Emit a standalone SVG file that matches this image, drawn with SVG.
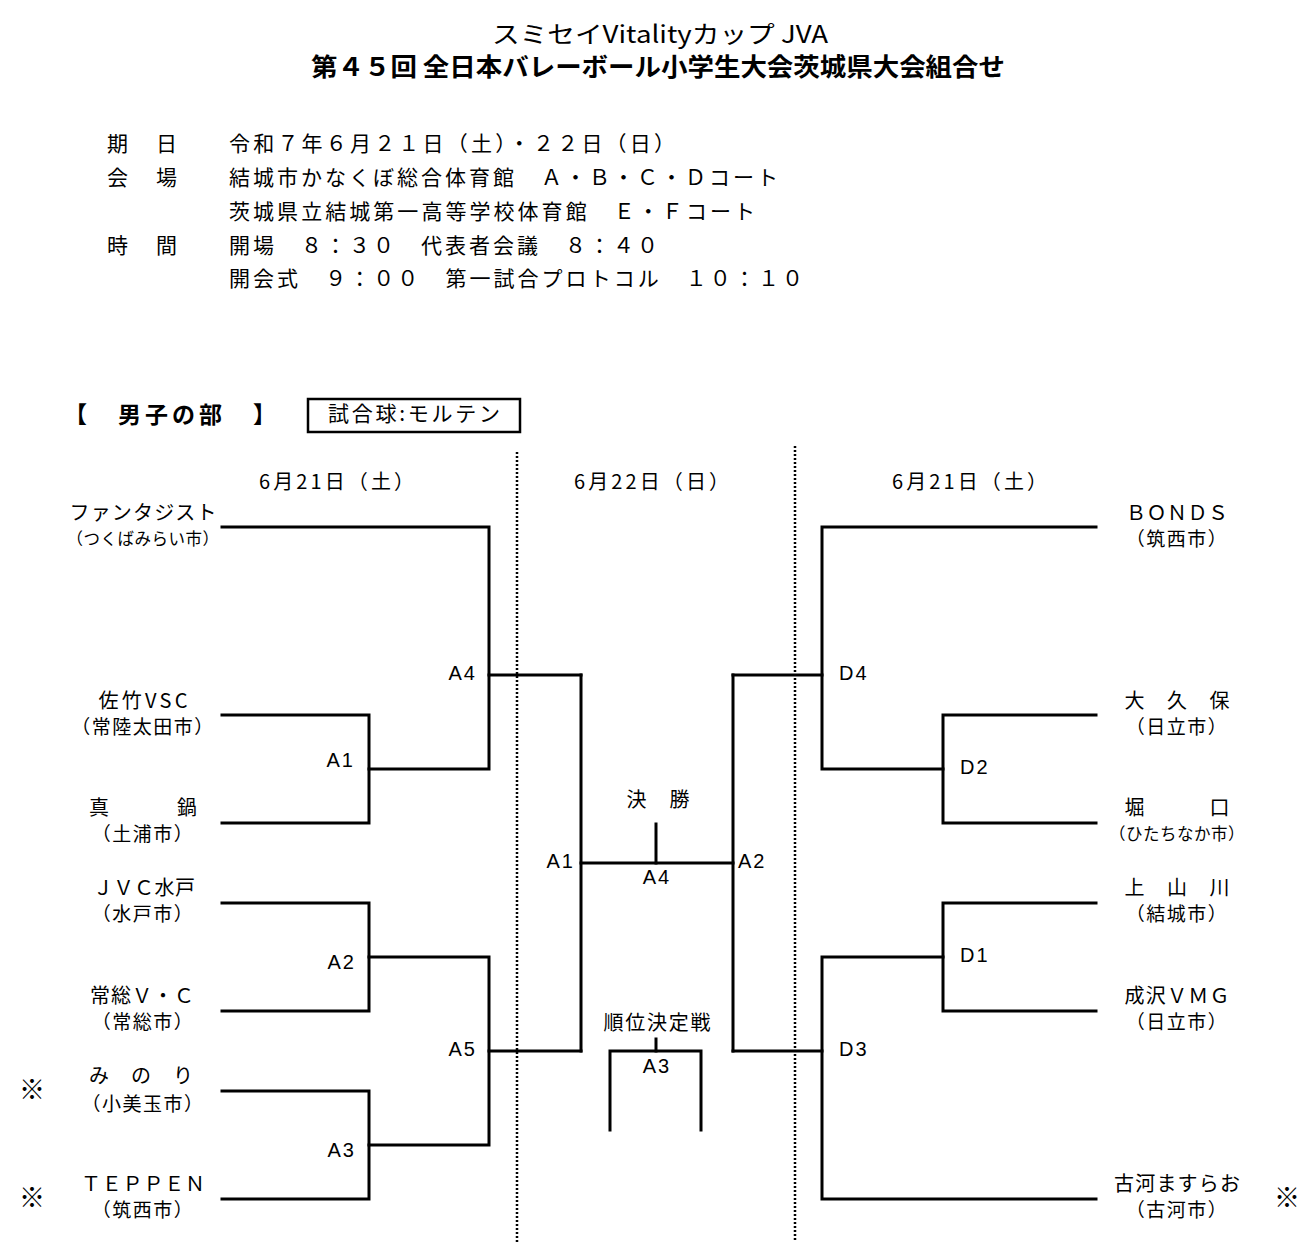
<svg xmlns="http://www.w3.org/2000/svg" width="1311" height="1246" viewBox="0 0 1311 1246">
<style>
text{font-family:"Noto Sans CJK JP","Noto Sans",sans-serif;fill:#000}
.t1{font-size:24px}
.t2{font-size:25px;font-weight:bold}
.info{font-size:21px}
.sec{font-size:23px;font-weight:bold}
.date{font-size:20px}
.tm{font-size:20px;text-anchor:middle}
.city{font-size:19px;text-anchor:middle;letter-spacing:1.5px}
.citys{font-size:16.5px;text-anchor:middle;letter-spacing:0.5px}
.lb{font-family:"Liberation Sans","DejaVu Sans",sans-serif;font-size:20px;letter-spacing:2px}
.mk{font-size:26px;text-anchor:middle}
.ln{fill:none;stroke:#000;stroke-width:3;stroke-linecap:square}
.dot{fill:none;stroke:#000;stroke-width:2.5;stroke-dasharray:2 2}
</style>
<rect width="1311" height="1246" fill="#fff"/>
<g id="header">
<text class="t1" x="492" y="43" textLength="336" lengthAdjust="spacingAndGlyphs">スミセイVitalityカップ JVA</text>
<text class="t2" x="311" y="76" textLength="694" lengthAdjust="spacingAndGlyphs">第４５回 全日本バレーボール小学生大会茨城県大会組合せ</text>
</g>
<g id="info">
<text class="info" x="107" y="151" textLength="70">期　日</text>
<text class="info" x="229" y="151" textLength="446">令和７年６月２１日（土）・２２日（日）</text>
<text class="info" x="107" y="185" textLength="70">会　場</text>
<text class="info" x="229" y="185" textLength="549">結城市かなくぼ総合体育館　Ａ・Ｂ・Ｃ・Ｄコート</text>
<text class="info" x="229" y="219" textLength="526">茨城県立結城第一高等学校体育館　Ｅ・Ｆコート</text>
<text class="info" x="107" y="253" textLength="70">時　間</text>
<text class="info" x="229" y="253" textLength="429">開場　８：３０　代表者会議　８：４０</text>
<text class="info" x="229" y="286" textLength="574">開会式　９：００　第一試合プロトコル　１０：１０</text>
</g>
<g id="section">
<text class="sec" x="64" y="423" textLength="212">【　男子の部　】</text>
<rect x="308" y="399" width="212" height="33" fill="none" stroke="#000" stroke-width="2.5"/>
<text class="info" x="328" y="421" textLength="172">試合球:モルテン</text>
</g>
<g id="dates">
<text class="date" x="259" y="489" textLength="155">6月21日（土）</text>
<text class="date" x="574" y="489" textLength="155">6月22日（日）</text>
<text class="date" x="892" y="489" textLength="155">6月21日（土）</text>
</g>
<g id="connectors">
<line class="dot" x1="517" y1="452" x2="517" y2="1242"/>
<line class="dot" x1="795" y1="446" x2="795" y2="1242"/>
<polyline class="ln" points="222,527 489,527 489,769 369,769"/>
<polyline class="ln" points="222,715 369,715 369,823 222,823"/>
<polyline class="ln" points="222,903 369,903 369,1011 222,1011"/>
<polyline class="ln" points="222,1091 369,1091 369,1199 222,1199"/>
<polyline class="ln" points="369,957 489,957 489,1145 369,1145"/>
<line class="ln" x1="489" y1="675" x2="581" y2="675"/>
<line class="ln" x1="489" y1="1051" x2="581" y2="1051"/>
<line class="ln" x1="581" y1="675" x2="581" y2="1051"/>
<line class="ln" x1="581" y1="863" x2="733" y2="863"/>
<line class="ln" x1="656" y1="824" x2="656" y2="863"/>
<line class="ln" x1="733" y1="675" x2="733" y2="1051"/>
<line class="ln" x1="656" y1="1039" x2="656" y2="1051"/>
<polyline class="ln" points="610,1130 610,1051 701,1051 701,1130"/>
<line class="ln" x1="733" y1="675" x2="822" y2="675"/>
<line class="ln" x1="733" y1="1051" x2="822" y2="1051"/>
<polyline class="ln" points="1096,527 822,527 822,769 943,769"/>
<polyline class="ln" points="1096,715 943,715 943,823 1096,823"/>
<polyline class="ln" points="1096,903 943,903 943,1011 1096,1011"/>
<polyline class="ln" points="943,957 822,957 822,1199 1096,1199"/>
</g>
<g id="matches">
<text id="m-a4" class="lb" x="477" y="680" text-anchor="end">A4</text>
<text id="m-a1" class="lb" x="355" y="767" text-anchor="end">A1</text>
<text id="m-a2" class="lb" x="356" y="969" text-anchor="end">A2</text>
<text id="m-a3" class="lb" x="356" y="1157" text-anchor="end">A3</text>
<text id="m-a5" class="lb" x="477" y="1056" text-anchor="end">A5</text>
<text id="m-a1c" class="lb" x="575" y="868" text-anchor="end">A1</text>
<text id="m-a2c" class="lb" x="738" y="868">A2</text>
<text id="m-final" class="lb" x="657" y="884" text-anchor="middle">A4</text>
<text id="m-third" class="lb" x="657" y="1073" text-anchor="middle">A3</text>
<text id="m-d4" class="lb" x="839" y="680">D4</text>
<text id="m-d2" class="lb" x="960" y="774">D2</text>
<text id="m-d1" class="lb" x="960" y="962">D1</text>
<text id="m-d3" class="lb" x="839" y="1056">D3</text>
<text id="lbl-final" class="tm" x="658" y="807" textLength="63" font-size="19">決　勝</text>
<text id="lbl-third" class="tm" x="657" y="1030" textLength="107">順位決定戦</text>
</g>
<g id="team-l1"><text class="tm" x="143" y="520" textLength="147">ファンタジスト</text><text class="citys" x="143" y="545">（つくばみらい市）</text></g>
<g id="team-l2"><text class="tm" x="143" y="708" textLength="89">佐竹VSC</text><text class="city" x="143" y="734">（常陸太田市）</text></g>
<g id="team-l3"><text class="tm" x="143" y="815" textLength="108">真　　　鍋</text><text class="city" x="143" y="841">（土浦市）</text></g>
<g id="team-l4"><text class="tm" x="144" y="895" textLength="102">ＪＶＣ水戸</text><text class="city" x="143" y="921">（水戸市）</text></g>
<g id="team-l5"><text class="tm" x="142" y="1003" textLength="104">常総Ｖ・Ｃ</text><text class="city" x="143" y="1029">（常総市）</text></g>
<g id="team-l6"><text class="tm" x="141" y="1083" textLength="104">み　の　り</text><text class="city" x="143" y="1111">（小美玉市）</text></g>
<g id="team-l7"><text class="tm" x="143" y="1191" textLength="124">ＴＥＰＰＥＮ</text><text class="city" x="143" y="1217">（筑西市）</text></g>
<g id="team-r1"><text class="tm" x="1177" y="520" textLength="102">ＢＯＮＤＳ</text><text class="city" x="1177" y="546">（筑西市）</text></g>
<g id="team-r2"><text class="tm" x="1177" y="708" textLength="105">大　久　保</text><text class="city" x="1177" y="734">（日立市）</text></g>
<g id="team-r3"><text class="tm" x="1177" y="815" textLength="105">堀　　　口</text><text class="citys" x="1177" y="840" font-size="18">（ひたちなか市）</text></g>
<g id="team-r4"><text class="tm" x="1177" y="895" textLength="105">上　山　川</text><text class="city" x="1177" y="921">（結城市）</text></g>
<g id="team-r5"><text class="tm" x="1177" y="1003" textLength="105">成沢ＶＭＧ</text><text class="city" x="1177" y="1029">（日立市）</text></g>
<g id="team-r6"><text class="tm" x="1177" y="1191" textLength="126">古河ますらお</text><text class="city" x="1177" y="1217">（古河市）</text></g>
<g id="marks">
<text class="mk" x="32" y="1099">※</text>
<text class="mk" x="32" y="1207">※</text>
<text class="mk" x="1287" y="1207">※</text>
</g>
</svg>
